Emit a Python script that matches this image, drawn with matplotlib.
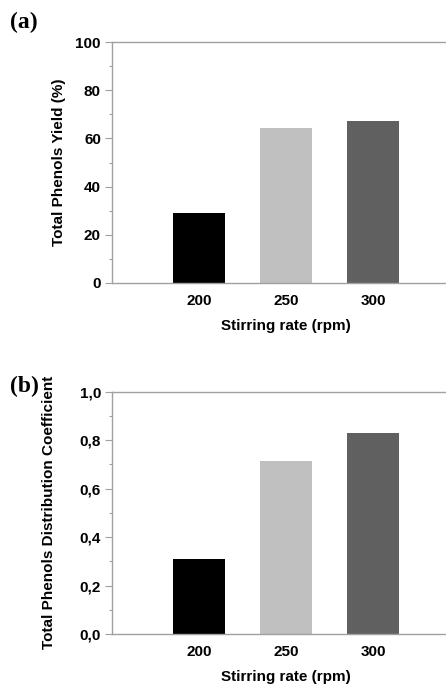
import matplotlib
matplotlib.use("Agg")
import matplotlib.pyplot as plt
from matplotlib.ticker import MultipleLocator, FuncFormatter

plt.rcParams["font.family"] = ["Liberation Sans", "DejaVu Sans"]

# data
rates = ["200", "250", "300"]
yield_pct = [29.0, 64.4, 67.3]
dist_coef = [0.308, 0.714, 0.828]
bar_colors = ["#000000", "#c0c0c0", "#606060"]

W, H = 446, 687
fig = plt.figure(figsize=(W / 100, H / 100), dpi=100)

spine_col = "#a0a0a0"


def panel(rect, vals, ylim, major, minor, ylabel, fmt, letter, letter_xy, lab_fs):
    ax = fig.add_axes(rect)
    x = range(1, len(rates) + 1)
    ax.bar(x, vals, width=0.6, color=bar_colors)
    ax.set_xlim(0, 4)
    ax.set_ylim(*ylim)
    ax.set_xticks(list(x))
    ax.set_xticklabels(rates, fontsize=11, fontweight="bold")
    ax.tick_params(axis="x", length=0, pad=8)
    ax.yaxis.set_major_locator(MultipleLocator(major))
    ax.yaxis.set_minor_locator(MultipleLocator(minor))
    ax.yaxis.set_major_formatter(FuncFormatter(fmt))
    ax.tick_params(axis="y", which="major", length=5, width=0.8, color=spine_col, labelsize=11, pad=3)
    ax.tick_params(axis="y", which="minor", length=2.5, width=0.8, color=spine_col)
    for lab in ax.get_yticklabels():
        lab.set_fontweight("bold")
    for s in ["left", "bottom", "top"]:
        ax.spines[s].set_color(spine_col)
        ax.spines[s].set_linewidth(1.0)
    ax.spines["right"].set_visible(False)
    ax.set_xlabel("Stirring rate (rpm)", fontsize=11, fontweight="bold", labelpad=8)
    ax.set_ylabel(ylabel, fontsize=lab_fs, fontweight="bold")
    fig.text(letter_xy[0], letter_xy[1], letter, fontsize=17, fontweight="bold",
             family="Liberation Serif", ha="left", va="center")
    return ax


ax1 = panel([112 / W, 1 - 283 / H, 348 / W, 241 / H], yield_pct, (0, 100), 20, 10,
            "Total Phenols Yield (%)", lambda v, p: f"{v:.0f}",
            "(a)", (10 / W, 1 - 22 / H), 11)
ax1.yaxis.set_label_coords(-0.132, 0.5)

ax2 = panel([112 / W, 1 - 634 / H, 348 / W, 242.3 / H], dist_coef, (0, 1.0), 0.2, 0.1,
            "Total Phenols Distribution Coefficient", lambda v, p: f"{v:.1f}".replace(".", ","),
            "(b)", (10 / W, 1 - 386 / H), 11)
ax2.yaxis.set_label_coords(-0.16, 0.5)

fig.savefig("out.png", dpi=100)
